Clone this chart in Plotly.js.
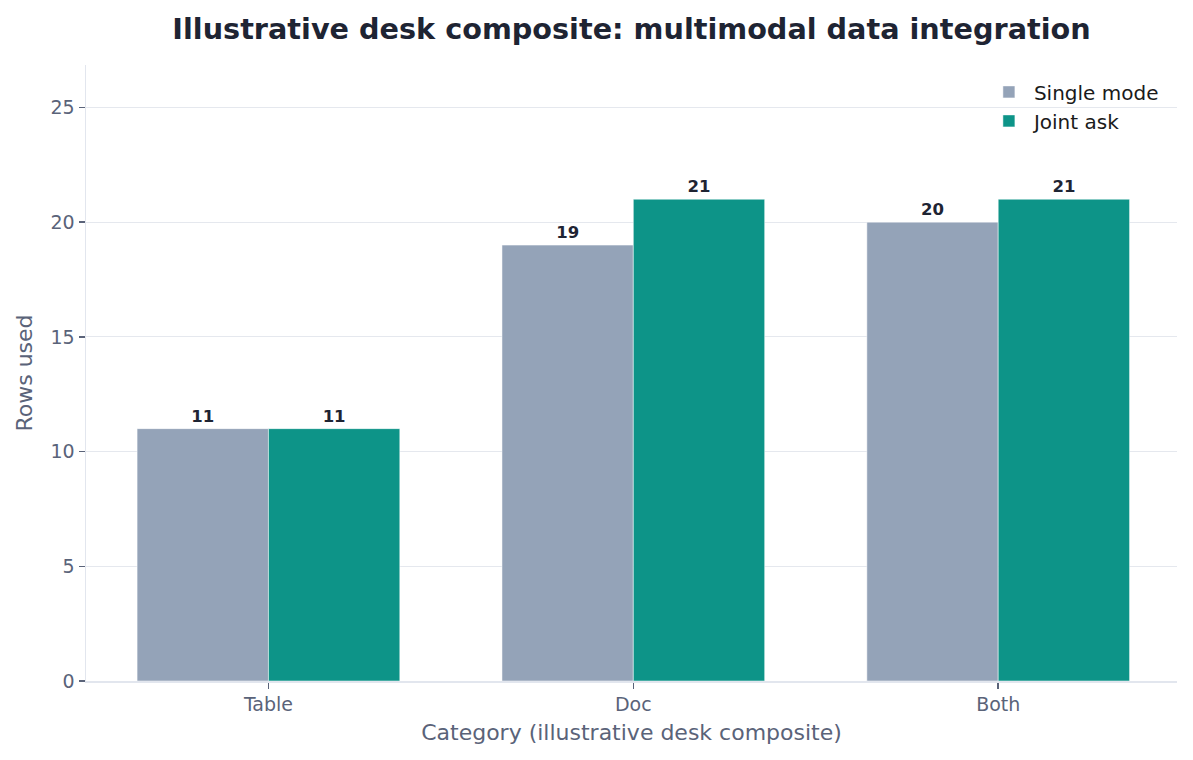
<!DOCTYPE html>
<html>
<head>
<meta charset="utf-8">
<script src="https://cdn.plot.ly/plotly-3.0.1.min.js"></script>
<style>
  html, body { margin: 0; padding: 0; background: #ffffff; }
  #chart { width: 1193px; height: 760px; }
</style>
</head>
<body>
<div id="chart"></div>
<script>
// data
const categories = ["Table", "Doc", "Both"];
const singleMode = [11, 19, 20];
const jointAsk = [11, 21, 21];
const seriesNames = ["Single mode", "Joint ask"];

const labelFont = { family: "DejaVu Sans", size: 16.5, color: "#1e2433", weight: "bold" };

const singleTrace = {
  type: "bar",
  name: seriesNames[0],
  x: categories,
  y: singleMode,
  text: singleMode.map(String),
  textposition: "outside",
  textfont: labelFont,
  cliponaxis: false,
  marker: { color: "#94a3b8", line: { color: "#ffffff", width: 0.5 } },
  hoverinfo: "skip",
};

const jointTrace = {
  type: "bar",
  name: seriesNames[1],
  x: categories,
  y: jointAsk,
  text: jointAsk.map(String),
  textposition: "outside",
  textfont: labelFont,
  cliponaxis: false,
  marker: { color: "#0d9488", line: { color: "#ffffff", width: 0.5 } },
  hoverinfo: "skip",
};

const layout = {
  width: 1193,
  height: 760,
  margin: { t: 65, l: 86, r: 16, b: 79 },
  paper_bgcolor: "#ffffff",
  plot_bgcolor: "#ffffff",
  font: { family: "DejaVu Sans", size: 19, color: "#5a6379" },
  title: {
    text: "<b>Illustrative desk composite: multimodal data integration</b>",
    font: { family: "DejaVu Sans", size: 28.7, color: "#1e2433" },
    x: 0.5,
    xref: "paper",
    xanchor: "center",
    y: 0.962,
    yanchor: "middle",
  },
  barmode: "group",
  bargap: 0.28,
  bargroupgap: 0,
  showlegend: true,
  legend: {
    x: 0.988,
    xanchor: "right",
    y: 0.988,
    yanchor: "top",
    bgcolor: "rgba(255,255,255,0)",
    font: { family: "DejaVu Sans", size: 20, color: "#1a1a1a" },
    itemwidth: 40,
    tracegroupgap: 2,
  },
  xaxis: {
    type: "category",
    range: [-0.5, 2.49],
    showline: true,
    linecolor: "#e2e6ee",
    linewidth: 1.5,
    showgrid: false,
    ticks: "outside",
    ticklen: 6,
    tickwidth: 1.5,
    tickcolor: "#5a6379",
    tickfont: { family: "DejaVu Sans", size: 19, color: "#5a6379" },
    title: {
      text: "Category (illustrative desk composite)",
      font: { family: "DejaVu Sans", size: 22, color: "#5a6379" },
      standoff: 10,
    },
    zeroline: false,
  },
  yaxis: {
    range: [0, 26.85],
    tickvals: [0, 5, 10, 15, 20, 25],
    showline: true,
    linecolor: "#e2e6ee",
    linewidth: 1.5,
    showgrid: true,
    gridcolor: "#e5e8ee",
    gridwidth: 1,
    ticks: "outside",
    ticklen: 6,
    tickwidth: 1.5,
    tickcolor: "#5a6379",
    tickfont: { family: "DejaVu Sans", size: 19, color: "#5a6379" },
    title: {
      text: "Rows used",
      font: { family: "DejaVu Sans", size: 22, color: "#5a6379" },
      standoff: 12,
    },
    zeroline: false,
  },
};

const config = { displayModeBar: false, responsive: false, staticPlot: true };

Plotly.newPlot("chart", [singleTrace, jointTrace], layout, config);
</script>
</body>
</html>
